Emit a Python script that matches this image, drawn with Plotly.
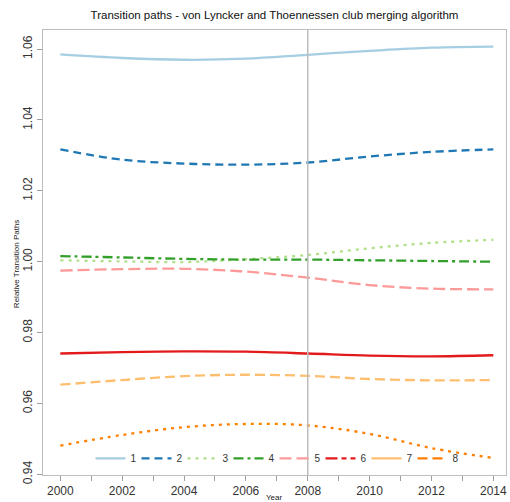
import plotly.graph_objects as go

# Years sampled every two years; curves are smoothed between them
years = [2000, 2002, 2004, 2006, 2008, 2010, 2012, 2014]

club1 = [1.0585, 1.0575, 1.0570, 1.0573, 1.0584, 1.0595, 1.0604, 1.0607]
club2 = [1.0317, 1.0288, 1.0277, 1.0274, 1.0280, 1.0297, 1.0310, 1.0317]
club3 = [1.0004, 1.0001, 0.9999, 1.0007, 1.0019, 1.0038, 1.0053, 1.0062]
club4 = [1.0016, 1.0012, 1.0008, 1.0006, 1.0006, 1.0004, 1.0002, 1.0000]
club5 = [0.9975, 0.9979, 0.9980, 0.9972, 0.9955, 0.9934, 0.9924, 0.9922]
club6 = [0.9741, 0.9745, 0.9747, 0.9746, 0.9741, 0.9735, 0.9733, 0.9736]
club7 = [0.9653, 0.9666, 0.9677, 0.9681, 0.9678, 0.9669, 0.9665, 0.9666]
club8 = [0.9481, 0.9511, 0.9533, 0.9542, 0.9538, 0.9514, 0.9474, 0.9446]

club_names = ["1", "2", "3", "4", "5", "6", "7", "8"]
club_values = [club1, club2, club3, club4, club5, club6, club7, club8]

colors = ["#A6CEE3", "#1F78B4", "#B2DF8A", "#33A02C",
          "#FB9A99", "#E31A1C", "#FDBF6F", "#FF7F00"]
# line styles of the drawn curves
curve_dash = ["solid", "8px,5px", "3px,5px", "10px,4px,3px,4px",
              "12px,5px", "solid", "10px,5px", "3px,5px"]
# line styles shown in the key
key_dash = ["solid", "8px,5px", "3px,5px", "10px,4px,3px,4px",
            "12px,5px", "12px,4px,5px,4px", "solid", "10px,5px"]

y_ticks = [0.94, 0.96, 0.98, 1.00, 1.02, 1.04, 1.06]
x_ticks = [2000, 2002, 2004, 2006, 2008, 2010, 2012, 2014]

fig = go.Figure()

for name, vals, col, dash in zip(club_names, club_values, colors, curve_dash):
    fig.add_trace(go.Scatter(
        x=years, y=vals, mode="lines", name=name, showlegend=False,
        line=dict(color=col, width=2.3, dash=dash, shape="spline", smoothing=1.0),
    ))

for name, col, dash in zip(club_names, colors, key_dash):
    fig.add_trace(go.Scatter(
        x=[None], y=[None], mode="lines", name=name, showlegend=True,
        line=dict(color=col, width=2.3, dash=dash),
    ))

# reference line at 2008
fig.add_vline(x=2008, line=dict(color="#BDBDBD", width=1.5))

fig.update_layout(
    width=510, height=502,
    margin=dict(l=43, r=4, t=30, b=27),
    paper_bgcolor="white", plot_bgcolor="white",
    font=dict(family="Liberation Sans, Arial, sans-serif", color="#333333"),
    title=dict(
        text="Transition paths - von Lyncker and Thoennessen club merging algorithm",
        x=0.5, xanchor="center", xref="paper", y=1 - 15 / 502, yanchor="middle",
        font=dict(size=11.5, color="#111111"),
    ),
    xaxis=dict(
        range=[1999.44, 2014.41], tickvals=x_ticks, ticktext=[str(t) for t in x_ticks],
        ticks="outside", ticklen=5, tickcolor="#9E9E9E", tickwidth=1,
        minor=dict(dtick=1, tick0=2000, ticks="outside", ticklen=5, tickcolor="#9E9E9E"),
        showgrid=False, zeroline=False, showline=True, linecolor="#BDBDBD", linewidth=1,
        mirror=True, tickfont=dict(size=12, color="#333333"),
    ),
    yaxis=dict(
        range=[0.9398, 1.0654], tickvals=y_ticks, ticktext=[f"{t:.2f}" for t in y_ticks],
        tickangle=-90, ticks="outside", ticklen=5, tickcolor="#9E9E9E", tickwidth=1,
        showgrid=False, zeroline=False, showline=True, linecolor="#BDBDBD", linewidth=1,
        mirror=True, tickfont=dict(size=12, color="#333333"),
    ),
    legend=dict(
        orientation="h", x=0.5, xanchor="center", y=0.005, yanchor="bottom",
        bgcolor="rgba(0,0,0,0)", font=dict(size=10, color="#333333"),
        itemwidth=30, tracegroupgap=0, entrywidth=1, entrywidthmode="pixels",
    ),
    annotations=[
        dict(text="Year", xref="paper", yref="paper", x=0.5, y=-16 / 445,
             xanchor="center", yanchor="top", showarrow=False,
             font=dict(size=8, color="#222222")),
        dict(text="Relative Transition Paths", xref="paper", yref="paper",
             x=-20 / 463, y=0.475, xanchor="right", yanchor="middle", textangle=-90,
             showarrow=False, font=dict(size=8, color="#222222")),
    ],
)

fig.write_html("out.html")
